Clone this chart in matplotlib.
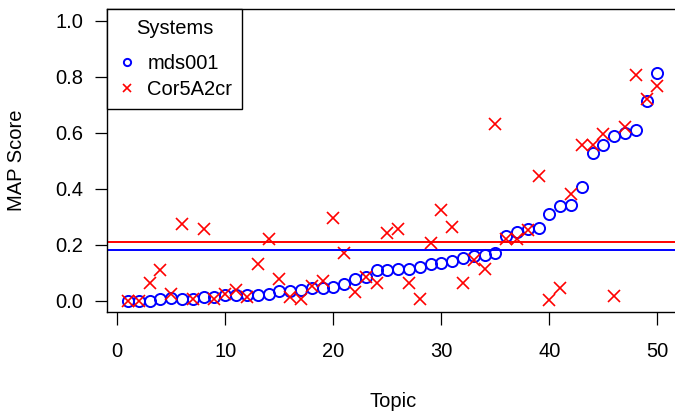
import numpy as np
import matplotlib
matplotlib.use("Agg")
import matplotlib.pyplot as plt

plt.rcParams['font.family'] = ['Liberation Sans', 'DejaVu Sans']

# MAP score per topic (topics sorted by mds001 score)
topics = np.arange(1, 51)
mds001 = [0.000, 0.000, 0.000, 0.006, 0.010, 0.006, 0.005, 0.013, 0.013, 0.021,
          0.021, 0.019, 0.021, 0.025, 0.034, 0.034, 0.039, 0.046, 0.044, 0.049,
          0.058, 0.078, 0.084, 0.108, 0.108, 0.112, 0.114, 0.120, 0.132, 0.134,
          0.141, 0.151, 0.159, 0.164, 0.170, 0.231, 0.245, 0.255, 0.259, 0.309,
          0.339, 0.340, 0.407, 0.528, 0.556, 0.589, 0.599, 0.608, 0.712, 0.813]
cor5a2cr = [0.000, 0.000, 0.061, 0.108, 0.025, 0.272, 0.004, 0.257, 0.007, 0.025,
            0.039, 0.011, 0.130, 0.218, 0.078, 0.013, 0.005, 0.051, 0.069, 0.296,
            0.171, 0.031, 0.084, 0.061, 0.242, 0.254, 0.063, 0.007, 0.204, 0.322,
            0.261, 0.061, 0.146, 0.111, 0.632, 0.218, 0.221, 0.251, 0.444, 0.001,
            0.043, 0.380, 0.557, 0.557, 0.596, 0.016, 0.618, 0.805, 0.718, 0.766]
labels = ["mds001", "Cor5A2cr"]

fs = 14.5
fig = plt.figure(figsize=(6.75, 4.12), dpi=100)
ax = fig.add_axes([0.1584, 0.2434, 0.8468, 0.734])

ax.plot(topics, mds001, 'o', mfc='none', mec='blue', ms=8, mew=1.4, label=labels[0])
ax.plot(topics, cor5a2cr, 'x', color='red', ms=8.5, mew=1.2, label=labels[1])
ax.axhline(np.mean(mds001), color='blue', lw=1.4)  # mean MAP lines
ax.axhline(np.mean(cor5a2cr), color='red', lw=1.4)

ax.set_xlim(-0.96, 51.96)
ax.set_ylim(-0.04, 1.04)
ax.set_xticks(range(0, 51, 10))
ax.set_yticks(np.arange(0, 1.01, 0.2))
ax.set_yticklabels(["%.1f" % v for v in np.arange(0, 1.01, 0.2)])
ax.tick_params(axis='both', direction='out', length=9, width=0.9, labelsize=fs, colors='black')
ax.tick_params(axis='x', pad=13)
ax.tick_params(axis='y', pad=8)
for s in ax.spines.values():
    s.set_linewidth(1.0)

ax.set_xlabel("Topic", fontsize=fs, labelpad=22)
ax.set_ylabel("MAP Score", fontsize=fs, labelpad=21)

leg = ax.legend(title="Systems", loc='upper left', bbox_to_anchor=(0, 1),
                borderaxespad=0, fancybox=False, framealpha=1, edgecolor='black',
                fontsize=fs, title_fontsize=fs, handlelength=0.95, handletextpad=0.55,
                borderpad=0.5, labelspacing=0.35, markerscale=0.65)
leg.get_frame().set_linewidth(1.0)
leg._legend_box.sep = 11.5  # extra room under the title

fig.savefig("out.png", dpi=100)
